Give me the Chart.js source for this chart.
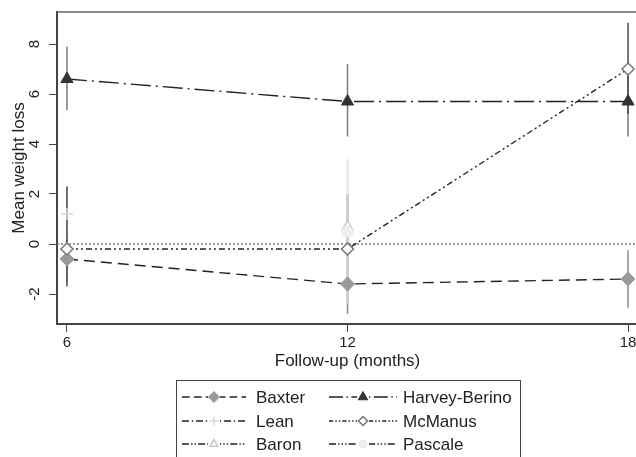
<!DOCTYPE html>
<html>
<head>
<meta charset="utf-8">
<script src="https://cdn.jsdelivr.net/npm/chart.js@4/dist/chart.umd.min.js"></script>
<style>
  html, body { margin: 0; padding: 0; overflow: hidden; background: #fff; }
  #wrap { width: 646px; height: 457px; }
</style>
</head>
<body>
<div id="wrap"><canvas id="c" width="646" height="457"></canvas></div>
<script>
// Follow-up points (months)
const months = [6, 12, 18];
const yTicks = [-2, 0, 2, 4, 6, 8];

// Mean weight loss per study
const baxter       = [-0.6, -1.6, -1.4];
const harveyBerino = [6.6, 5.7, 5.7];
const lean         = [1.2, null, null];
const mcmanus      = [-0.2, -0.2, 7.0];
const baron        = [null, 0.7, null];
const pascale      = [null, 0.5, null];

// Confidence limits per study (low / high)
const baxterLo  = [-1.5, -2.8, -2.55], baxterHi  = [0.3, -0.4, -0.25];
const harveyLo  = [5.35, 4.3, 4.3],    harveyHi  = [7.9, 7.2, 7.0];
const leanLo    = [0.1, null, null],   leanHi    = [2.3, null, null];
const mcmanusLo = [-1.7, -1.0, 5.2],   mcmanusHi = [2.3, 0.6, 8.85];
const baronLo   = [null, -2.0, null],  baronHi   = [null, 3.4, null];
const pascaleLo = [null, -2.4, null],  pascaleHi = [null, 2.0, null];

const FONT = "'Liberation Sans', Arial, Helvetica, sans-serif";
const toXY = arr => months.map((m, i) => ({ x: m, y: arr[i] }));

function series(label, values, lo, hi, style) {
  return Object.assign({
    label,
    data: toXY(values),
    ciLo: lo, ciHi: hi,
    borderColor: '#222',
    borderWidth: 1.4,
    fill: false,
    tension: 0,
    spanGaps: false,
    order: 1
  }, style);
}

const datasets = [
  series('Baxter', baxter, baxterLo, baxterHi, {
    borderDash: [11, 6], pointStyle: 'rectRot', pointRadius: 7,
    pointBackgroundColor: '#9a9a9a', pointBorderColor: '#9a9a9a', pointBorderWidth: 1,
    ciColor: '#8a8a8a', ciWidth: 1.5
  }),
  series('Harvey-Berino', harveyBerino, harveyLo, harveyHi, {
    borderDash: [20, 5, 2, 5], pointStyle: 'triangle', pointRadius: 7,
    pointBackgroundColor: '#333', pointBorderColor: '#333', pointBorderWidth: 1,
    ciColor: '#7a7a7a', ciWidth: 1.5
  }),
  series('Lean', lean, leanLo, leanHi, {
    borderDash: [10, 4, 2, 4], pointStyle: 'cross', pointRadius: 6,
    pointBackgroundColor: '#d8d8d8', pointBorderColor: '#d8d8d8', pointBorderWidth: 1.5,
    ciColor: '#dcdcdc', ciWidth: 1.5
  }),
  series('McManus', mcmanus, mcmanusLo, mcmanusHi, {
    borderDash: [6, 3, 2, 3, 2, 3], pointStyle: 'rectRot', pointRadius: 6,
    pointBackgroundColor: '#fff', pointBorderColor: '#777', pointBorderWidth: 1.5,
    ciColor: '#4a4a4a', ciWidth: 1.5, order: 0
  }),
  series('Baron', baron, baronLo, baronHi, {
    borderDash: [10, 3, 2, 3, 2, 3], pointStyle: 'triangle', pointRadius: 6,
    pointBackgroundColor: '#fff', pointBorderColor: '#c8c8c8', pointBorderWidth: 1.5,
    ciColor: '#e4e4e4', ciWidth: 2
  }),
  series('Pascale', pascale, pascaleLo, pascaleHi, {
    borderDash: [10, 3, 2, 3, 2, 3, 2, 3], pointStyle: 'circle', pointRadius: 5.5,
    pointBackgroundColor: '#efefef', pointBorderColor: '#e6e6e6', pointBorderWidth: 1,
    ciColor: '#cfcfcf', ciWidth: 3, order: 0
  })
];

// Plot frame, zero reference line and confidence bars (under the lines)
const underlay = {
  id: 'underlay',
  beforeDatasetsDraw(chart) {
    const { ctx, chartArea: a, scales: { x, y } } = chart;
    ctx.save();
    // zero line
    const y0 = y.getPixelForValue(0);
    ctx.strokeStyle = '#777';
    ctx.lineWidth = 1.5;
    ctx.setLineDash([2, 2]);
    ctx.beginPath();
    ctx.moveTo(a.left, y0);
    ctx.lineTo(a.right, y0);
    ctx.stroke();
    ctx.setLineDash([]);
    // confidence bars
    chart.data.datasets.forEach(ds => {
      ctx.strokeStyle = ds.ciColor;
      ctx.lineWidth = ds.ciWidth;
      months.forEach((m, i) => {
        if (ds.ciLo[i] == null || ds.ciHi[i] == null) return;
        const px = x.getPixelForValue(m);
        ctx.beginPath();
        ctx.moveTo(px, y.getPixelForValue(ds.ciLo[i]));
        ctx.lineTo(px, y.getPixelForValue(ds.ciHi[i]));
        ctx.stroke();
      });
    });
    ctx.restore();
  },
  afterDraw(chart) {
    const { ctx, chartArea: a } = chart;
    ctx.save();
    ctx.strokeStyle = '#666';
    ctx.lineWidth = 1.5;
    ctx.beginPath();
    ctx.moveTo(a.left, a.top);
    ctx.lineTo(a.right, a.top);
    ctx.lineTo(a.right, a.bottom);
    ctx.stroke();
    ctx.restore();
  }
};

// Two-column legend box under the axis title
const boxLegend = {
  id: 'boxLegend',
  afterDraw(chart) {
    const { ctx, chartArea: a } = chart;
    const c = (a.left + a.right) / 2;
    const top = 380, rowY = [397, 421, 444];
    ctx.save();
    ctx.strokeStyle = '#444';
    ctx.lineWidth = 1;
    ctx.strokeRect(Math.round(c - 171.5) + 0.5, top + 0.5, 344, 80);
    const cols = [
      { x0: c - 165.5, x1: c - 101.5, tx: c - 91.5 },
      { x0: c - 18.5,  x1: c + 49.5,  tx: c + 55.5 }
    ];
    chart.data.datasets.forEach((ds, i) => {
      const col = cols[i % 2];
      const yy = rowY[Math.floor(i / 2)];
      ctx.strokeStyle = ds.borderColor;
      ctx.lineWidth = 1.3;
      ctx.setLineDash(ds.borderDash.map(v => v * 0.7));
      ctx.beginPath();
      ctx.moveTo(col.x0, yy);
      ctx.lineTo(col.x1, yy);
      ctx.stroke();
      ctx.setLineDash([]);
      const mx = (col.x0 + col.x1) / 2;
      ctx.fillStyle = '#fff';
      ctx.fillRect(mx - 6, yy - 6, 12, 12);
      ctx.fillStyle = ds.pointBackgroundColor;
      ctx.strokeStyle = ds.pointBorderColor;
      ctx.lineWidth = ds.pointBorderWidth;
      Chart.helpers.drawPoint(ctx, {
        pointStyle: ds.pointStyle, rotation: 0,
        radius: Math.max(4, ds.pointRadius - 1.5), borderWidth: ds.pointBorderWidth
      }, mx, yy);
      ctx.fillStyle = '#222';
      ctx.font = '17px ' + FONT;
      ctx.textBaseline = 'middle';
      ctx.textAlign = 'left';
      ctx.fillText(ds.label, col.tx, yy + 1);
    });
    ctx.restore();
  }
};

new Chart(document.getElementById('c'), {
  type: 'line',
  data: { datasets },
  plugins: [underlay, boxLegend],
  options: {
    responsive: false,
    animation: false,
    events: [],
    layout: { padding: { top: 12, right: 6, bottom: 83, left: 0 } },
    plugins: { legend: { display: false }, tooltip: { enabled: false } },
    scales: {
      x: {
        type: 'linear',
        min: 5.787, max: 18.213,
        afterBuildTicks: s => { s.ticks = months.map(v => ({ value: v })); },
        afterFit: s => { s.height = 50; s.paddingLeft = 0; s.paddingRight = 0; },
        grid: { drawOnChartArea: false, drawTicks: true, tickLength: 8, color: '#444', tickWidth: 1 },
        border: { display: true, color: '#444', width: 2 },
        ticks: { color: '#222', font: { family: FONT, size: 15 }, padding: 2, maxRotation: 0 },
        title: { display: true, text: 'Follow-up (months)', color: '#222',
                 font: { family: FONT, size: 17 }, padding: { top: 0, bottom: 2 } }
      },
      y: {
        type: 'linear',
        min: -3.2, max: 9.28,
        afterBuildTicks: s => { s.ticks = yTicks.map(v => ({ value: v })); },
        afterFit: s => { s.width = 57; s.paddingTop = 0; s.paddingBottom = 0; },
        grid: { drawOnChartArea: false, drawTicks: true, tickLength: 8, color: '#444', tickWidth: 1 },
        border: { display: true, color: '#444', width: 2 },
        ticks: { color: '#222', font: { family: FONT, size: 15 }, padding: 7,
                 minRotation: 90, maxRotation: 90, crossAlign: 'center' },
        title: { display: true, text: 'Mean weight loss', color: '#222',
                 font: { family: FONT, size: 17 }, padding: { top: 9, bottom: 0 } }
      }
    }
  }
});
</script>
</body>
</html>
